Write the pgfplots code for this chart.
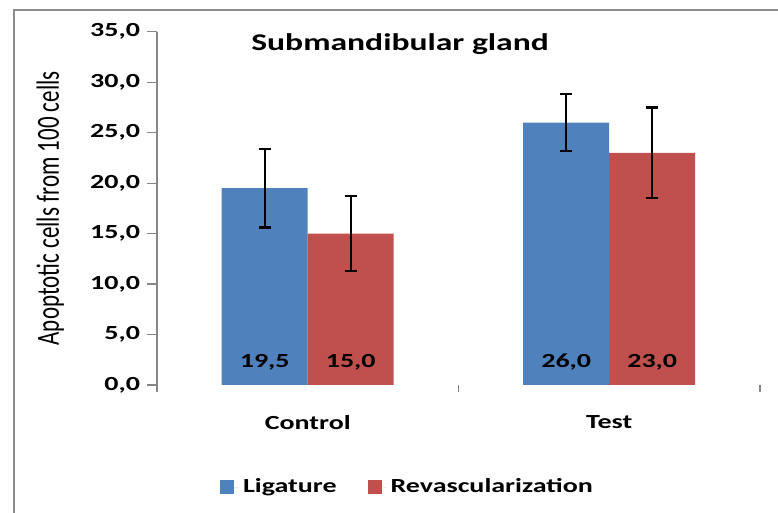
\documentclass[border=0pt]{standalone}
\usepackage{pgfplots}
\pgfplotsset{compat=1.18}
\usepackage{fontspec}
\setmainfont{Carlito}
\usepackage{graphicx}
\newcommand\sx[1]{\scalebox{1.4}[1]{#1}}
\definecolor{cblue}{HTML}{4F81BD}
\definecolor{cred}{HTML}{C0504D}
\definecolor{axgray}{HTML}{868686}
\definecolor{framegray}{HTML}{8C8C8C}
\pgfplotsset{
  errs/.style={
    error bars/y dir=both,
    error bars/y explicit,
    error bars/error bar style={black,line width=1.2pt},
    error bars/error mark options={rotate=90,black,mark size=3pt,line width=1.2pt}
  }
}
\begin{document}
\begin{tikzpicture}
\useasboundingbox (0,0) rectangle (389pt,256.5pt);
\draw[framegray, line width=1pt] (7pt,0) -- (7pt,251.5pt) -- (389pt,251.5pt);
\begin{axis}[
  at={(78.5pt,64pt)}, anchor=south west,
  scale only axis, width=301.5pt, height=176.65pt,
  ybar=0pt, bar width=43pt,
  xmin=-0.5, xmax=1.5, ymin=0, ymax=35,
  axis lines*=left,
  x axis line style={draw=none},
  y axis line style={axgray, line width=0.6pt},
  ytick={0,5,...,35},
  ytick style={axgray, line width=0.6pt},
  tick align=outside, major tick length=5pt,
  yticklabel={\sx{\bfseries\pgfmathprintnumber[fixed,fixed zerofill,precision=1,use comma,assume math mode=true]{\tick}}},
  xtick={0,1},
  xticklabels={\sx{\bfseries Control},\sx{\bfseries Test}},
  xticklabel style={yshift=-6.5pt},
  xtick style={draw=none},
  extra x ticks={-0.5,0.5,1.5},
  extra x tick labels={},
  extra x tick style={xtick style={draw=axgray,line width=0.6pt}, major tick length=3.5pt},
  ylabel={Apoptotic cells from 100 cells},
  ylabel style={at={(axis description cs:-0.177,0.5)}, anchor=center, font=\fontsize{11.5}{13}\selectfont, rotate=-90, xscale=1.4, rotate=90},
  title={\sx{\bfseries Submandibular gland}},
  every axis title shift=0pt,
  title style={at={(axis description cs:0.403,0.9454)}, anchor=base, yshift=0pt, font=\fontsize{12}{14}\selectfont},
  nodes near coords={\sx{\bfseries\pgfmathprintnumber[fixed,fixed zerofill,precision=1,use comma,assume math mode=true]{\pgfplotspointmeta}}},
  visualization depends on=y \as \rawy,
  every node near coord/.append style={anchor=center, shift={(axis direction cs:0,-\rawy)}, yshift=11.5pt, black},
  legend columns=2,
  legend style={at={(axis description cs:0.094,-0.29)}, anchor=west, draw=none, fill=none,
    /tikz/every even column/.append style={column sep=13.5pt}},
  legend image code/.code={\fill[#1] (0pt,-3.5pt) rectangle (7pt,3.5pt); \path (0pt,0pt) -- (9.5pt,0pt);},
]
\addplot[fill=cblue, draw=none, errs]
  coordinates {(0,19.5) +- (0,3.9) (1,26.0) +- (0,2.8)};
\addplot[fill=cred, draw=none, errs]
  coordinates {(0,15.0) +- (0,3.7) (1,23.0) +- (0,4.5)};
\legend{\sx{\bfseries Ligature},\sx{\bfseries Revascularization}}
\end{axis}
\end{tikzpicture}
\end{document}
